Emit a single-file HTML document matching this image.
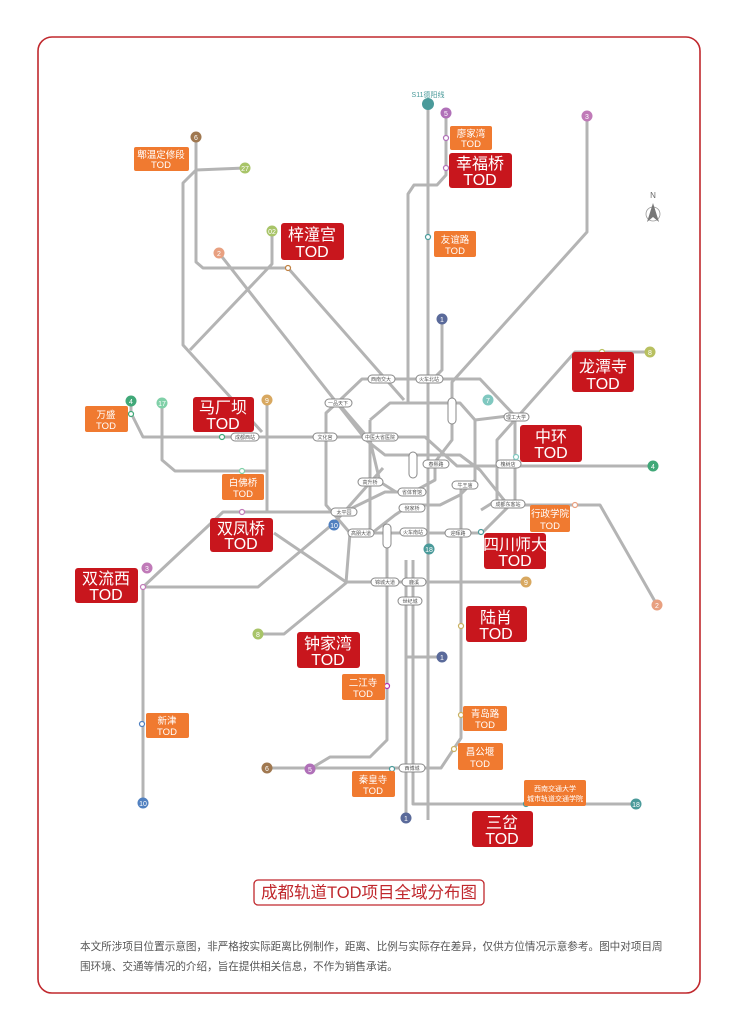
<!DOCTYPE html>
<html><head><meta charset="utf-8"><style>
html,body{margin:0;padding:0;background:#fff;}
svg{display:block;}
text{font-family:"Liberation Sans","Noto Sans CJK SC",sans-serif;}
</style></head><body>
<svg width="740" height="1026" viewBox="0 0 740 1026" xmlns="http://www.w3.org/2000/svg">
<rect x="38" y="37" width="662" height="956" rx="14" fill="#fff" stroke="#c0282d" stroke-width="1.6"/>

<g fill="none" stroke="#b4b4b4" stroke-width="3" stroke-linejoin="round">
<path d="M428,104 V820"/>
<path d="M442,319 V370 L430,382"/>
<path d="M406,560 V818"/>
<path d="M413,560 V804 H636"/>
<path d="M406,657 H442"/>
<path d="M446,113 V175 L437,185 H414 L408,194 V403"/>
<path d="M387,533 V740 L370,757 H330 L310,769"/>
<path d="M196,137 V262 L203,268 H288 L404,400"/>
<path d="M266,768 H441 L461,738 V485"/>
<path d="M245,168 L196,170 L183,183 V345 L262,432"/>
<path d="M272,231 V264 L190,350"/>
<path d="M219,253 L366,440 L385,455 H460 L480,470 L508,505 H600 L657,605"/>
<path d="M587,116 V232 L452,382 V440 L435,462 V480 L413,492 H385 L344,512 H223 L143,587"/>
<path d="M131,402 V413 L143,437 H425 L457,466 H653"/>
<path d="M162,403 V460 L175,471 H266"/>
<path d="M267,400 V512"/>
<path d="M274,533 L346,582 H526"/>
<path d="M143,803 V587 H258 L334,523 L344,512"/>
<path d="M258,634 H284 L346,583 L350,533"/>
<path d="M650,352 H575 L497,440 V500 L481,510"/>
<path d="M362,379 H480 L515,416 V500 L482,533 H350 L326,505 V413 L340,400 Z"/>
<path d="M370,420 L390,403 H460 L475,420 V480 L460,495 L440,505 H410 L395,515 L372,533"/>
<path d="M370,420 V533"/>
<path d="M338,403 L370,440 L380,482 L396,492"/>
<path d="M475,420 L516,415"/>
<path d="M344,512 L383,468"/>
</g>

<g font-size="5" fill="#555" text-anchor="middle">
<g stroke="#888" stroke-width="1" fill="#fff">
<rect x="368" y="375" width="27" height="8" rx="4"/><rect x="416" y="375" width="27" height="8" rx="4"/>
<rect x="325" y="399" width="27" height="8" rx="4"/><rect x="231" y="433" width="28" height="8" rx="4"/>
<rect x="313" y="433" width="24" height="8" rx="4"/><rect x="362" y="433" width="36" height="8" rx="4"/>
<rect x="448" y="398" width="8" height="26" rx="4"/><rect x="409" y="452" width="8" height="26" rx="4"/>
<rect x="423" y="460" width="26" height="8" rx="4"/><rect x="496" y="460" width="25" height="8" rx="4"/>
<rect x="504" y="413" width="25" height="8" rx="4"/><rect x="358" y="478" width="25" height="8" rx="4"/>
<rect x="398" y="488" width="28" height="8" rx="4"/><rect x="452" y="481" width="26" height="8" rx="4"/>
<rect x="399" y="504" width="26" height="8" rx="4"/><rect x="491" y="500" width="34" height="8" rx="4"/>
<rect x="331" y="508" width="26" height="8" rx="4"/><rect x="348" y="529" width="26" height="8" rx="4"/>
<rect x="400" y="528" width="27" height="8" rx="4"/><rect x="445" y="529" width="26" height="8" rx="4"/>
<rect x="383" y="524" width="8" height="24" rx="4"/><rect x="371" y="578" width="28" height="8" rx="4"/>
<rect x="402" y="578" width="24" height="8" rx="4"/><rect x="398" y="597" width="24" height="8" rx="4"/>
<rect x="399" y="764" width="26" height="8" rx="4"/>
</g>
<text x="381" y="381">西南交大</text><text x="429" y="381">火车北站</text><text x="338" y="405">一品天下</text>
<text x="245" y="439">成都西站</text><text x="325" y="439">文化宫</text><text x="380" y="439">中医大省医院</text>
<text x="436" y="466">春熙路</text><text x="508" y="466">槐树店</text><text x="516" y="419">理工大学</text>
<text x="370" y="484">高升桥</text><text x="412" y="494">省体育馆</text><text x="465" y="487">牛王庙</text>
<text x="412" y="510">倪家桥</text><text x="508" y="506">成都东客站</text><text x="344" y="514">太平园</text>
<text x="361" y="535">高朋大道</text><text x="413" y="534">火车南站</text><text x="458" y="535">迎晖路</text>
<text x="385" y="584">锦城大道</text><text x="414" y="584">鹿溪</text><text x="410" y="603">世纪城</text><text x="412" y="770">西博城</text>
</g>

<g font-size="7" fill="#fff" text-anchor="middle">
<circle cx="428" cy="104" r="6" fill="#4a9a9a"/>
<circle cx="446" cy="113" r="5.5" fill="#b070b8"/><text x="446" y="116">5</text>
<circle cx="587" cy="116" r="5.5" fill="#c07ab8"/><text x="587" y="119">3</text>
<circle cx="196" cy="137" r="5.5" fill="#a07850"/><text x="196" y="140">6</text>
<circle cx="245" cy="168" r="5.5" fill="#a8c468"/><text x="245" y="171">27</text>
<circle cx="272" cy="231" r="5.5" fill="#a8c468"/><text x="272" y="234">02</text>
<circle cx="219" cy="253" r="5.5" fill="#e8a080"/><text x="219" y="256">2</text>
<circle cx="442" cy="319" r="5.5" fill="#5a6a9a"/><text x="442" y="322">1</text>
<circle cx="650" cy="352" r="5.5" fill="#b8c060"/><text x="650" y="355">8</text>
<circle cx="131" cy="401" r="5.5" fill="#40a878"/><text x="131" y="404">4</text>
<circle cx="162" cy="403" r="5.5" fill="#80d0a8"/><text x="162" y="406">17</text>
<circle cx="267" cy="400" r="5.5" fill="#d8a860"/><text x="267" y="403">9</text>
<circle cx="488" cy="400" r="5.5" fill="#80c8c0"/><text x="488" y="403">7</text>
<circle cx="653" cy="466" r="5.5" fill="#40a878"/><text x="653" y="469">4</text>
<circle cx="334" cy="525" r="5.5" fill="#5080c0"/><text x="334" y="528">10</text>
<circle cx="429" cy="549" r="5.5" fill="#4a9a9a"/><text x="429" y="552">18</text>
<circle cx="147" cy="568" r="5.5" fill="#c07ab8"/><text x="147" y="571">3</text>
<circle cx="526" cy="582" r="5.5" fill="#d8a860"/><text x="526" y="585">9</text>
<circle cx="657" cy="605" r="5.5" fill="#e8a080"/><text x="657" y="608">2</text>
<circle cx="258" cy="634" r="5.5" fill="#a8c468"/><text x="258" y="637">8</text>
<circle cx="442" cy="657" r="5.5" fill="#5a6a9a"/><text x="442" y="660">1</text>
<circle cx="267" cy="768" r="5.5" fill="#a07850"/><text x="267" y="771">6</text>
<circle cx="310" cy="769" r="5.5" fill="#b070b8"/><text x="310" y="772">5</text>
<circle cx="143" cy="803" r="5.5" fill="#5080c0"/><text x="143" y="806">10</text>
<circle cx="636" cy="804" r="5.5" fill="#4a9a9a"/><text x="636" y="807">18</text>
<circle cx="406" cy="818" r="5.5" fill="#5a6a9a"/><text x="406" y="821">1</text>
</g>
<text x="428" y="97" font-size="7" fill="#4a9a9a" text-anchor="middle">S11德阳线</text>

<g fill="#fff" stroke-width="1.2">
<circle cx="446" cy="138" r="2.5" stroke="#b070b8"/><circle cx="446" cy="168" r="2.5" stroke="#b070b8"/>
<circle cx="428" cy="237" r="2.5" stroke="#4a9a9a"/><circle cx="288" cy="268" r="2.5" stroke="#c08040"/>
<circle cx="131" cy="414" r="2.5" stroke="#40a878"/><circle cx="222" cy="437" r="2.5" stroke="#40a878"/>
<circle cx="242" cy="471" r="2.5" stroke="#80d0a8"/><circle cx="242" cy="512" r="2.5" stroke="#c07ab8"/>
<circle cx="143" cy="587" r="2.5" stroke="#c07ab8"/><circle cx="602" cy="352" r="2.5" stroke="#b8c060"/>
<circle cx="516" cy="457" r="2.5" stroke="#80c8c0"/><circle cx="575" cy="505" r="2.5" stroke="#e8a080"/>
<circle cx="481" cy="532" r="2.5" stroke="#4a9a9a"/><circle cx="461" cy="626" r="2.5" stroke="#c8b060"/>
<circle cx="387" cy="686" r="2.5" stroke="#b030b0"/><circle cx="142" cy="724" r="2.5" stroke="#5080c0"/>
<circle cx="461" cy="715" r="2.5" stroke="#c8b060"/><circle cx="454" cy="749" r="2.5" stroke="#c8b060"/>
<circle cx="392" cy="769" r="2.5" stroke="#4a9a9a"/><circle cx="526" cy="804" r="2.5" stroke="#4a9a9a"/>
</g>

<text x="653" y="198" font-size="8" fill="#666" text-anchor="middle">N</text>
<circle cx="653" cy="214" r="7" fill="none" stroke="#999" stroke-width="0.8"/>
<path d="M653,203 L659,222 L653,217 L647,222 Z" fill="#777"/>

<g fill="#c8161d">
<rect x="449" y="153" width="63" height="35" rx="3"/>
<rect x="281" y="223" width="63" height="37" rx="3"/>
<rect x="572" y="352" width="62" height="40" rx="3"/>
<rect x="193" y="397" width="61" height="35" rx="3"/>
<rect x="520" y="425" width="62" height="37" rx="3"/>
<rect x="210" y="518" width="63" height="34" rx="3"/>
<rect x="484" y="533" width="62" height="36" rx="3"/>
<rect x="75" y="568" width="63" height="35" rx="3"/>
<rect x="466" y="606" width="61" height="36" rx="3"/>
<rect x="297" y="632" width="63" height="36" rx="3"/>
<rect x="472" y="811" width="61" height="36" rx="3"/>
</g>
<g fill="#fff" font-size="16" text-anchor="middle">
<text x="480" y="169">幸福桥</text><text x="480" y="185">TOD</text>
<text x="312" y="240">梓潼宫</text><text x="312" y="257">TOD</text>
<text x="603" y="372">龙潭寺</text><text x="603" y="389">TOD</text>
<text x="223" y="413">马厂坝</text><text x="223" y="429">TOD</text>
<text x="551" y="442">中环</text><text x="551" y="458">TOD</text>
<text x="241" y="534">双凤桥</text><text x="241" y="549">TOD</text>
<text x="515" y="550">四川师大</text><text x="515" y="566">TOD</text>
<text x="106" y="584">双流西</text><text x="106" y="600">TOD</text>
<text x="496" y="623">陆肖</text><text x="496" y="639">TOD</text>
<text x="328" y="649">钟家湾</text><text x="328" y="665">TOD</text>
<text x="502" y="828">三岔</text><text x="502" y="844">TOD</text>
</g>

<g fill="#f07a30">
<rect x="134" y="147" width="55" height="24" rx="2"/>
<rect x="450" y="126" width="42" height="24" rx="2"/>
<rect x="434" y="231" width="42" height="26" rx="2"/>
<rect x="85" y="406" width="43" height="26" rx="2"/>
<rect x="222" y="474" width="42" height="26" rx="2"/>
<rect x="530" y="505" width="40" height="27" rx="2"/>
<rect x="342" y="674" width="43" height="26" rx="2"/>
<rect x="146" y="713" width="43" height="25" rx="2"/>
<rect x="463" y="706" width="44" height="25" rx="2"/>
<rect x="458" y="743" width="45" height="27" rx="2"/>
<rect x="352" y="771" width="43" height="26" rx="2"/>
<rect x="524" y="780" width="62" height="26" rx="2"/>
</g>
<g fill="#fff" font-size="9.5" text-anchor="middle">
<text x="161" y="158">郫温定修段</text><text x="161" y="168">TOD</text>
<text x="471" y="137">廖家湾</text><text x="471" y="147">TOD</text>
<text x="455" y="243">友谊路</text><text x="455" y="254">TOD</text>
<text x="106" y="418">万盛</text><text x="106" y="429">TOD</text>
<text x="243" y="486">白佛桥</text><text x="243" y="497">TOD</text>
<text x="550" y="517">行政学院</text><text x="550" y="529">TOD</text>
<text x="363" y="686">二江寺</text><text x="363" y="697">TOD</text>
<text x="167" y="724">新津</text><text x="167" y="735">TOD</text>
<text x="485" y="717">青岛路</text><text x="485" y="728">TOD</text>
<text x="480" y="755">昌公堰</text><text x="480" y="767">TOD</text>
<text x="373" y="783">秦皇寺</text><text x="373" y="794">TOD</text>
<text x="555" y="791" font-size="7">西南交通大学</text><text x="555" y="801" font-size="7">城市轨道交通学院</text>
</g>

<rect x="254" y="880" width="230" height="25" rx="4" fill="#fff" stroke="#c0282d" stroke-width="1.3"/>
<text x="369" y="898" font-size="16.5" fill="#c0282d" text-anchor="middle">成都轨道TOD项目全域分布图</text>

<text x="80" y="950" font-size="10.6" fill="#555">本文所涉项目位置示意图，非严格按实际距离比例制作，距离、比例与实际存在差异，仅供方位情况示意参考。图中对项目周</text>
<text x="80" y="970" font-size="10.6" fill="#555">围环境、交通等情况的介绍，旨在提供相关信息，不作为销售承诺。</text>
</svg>
</body></html>
